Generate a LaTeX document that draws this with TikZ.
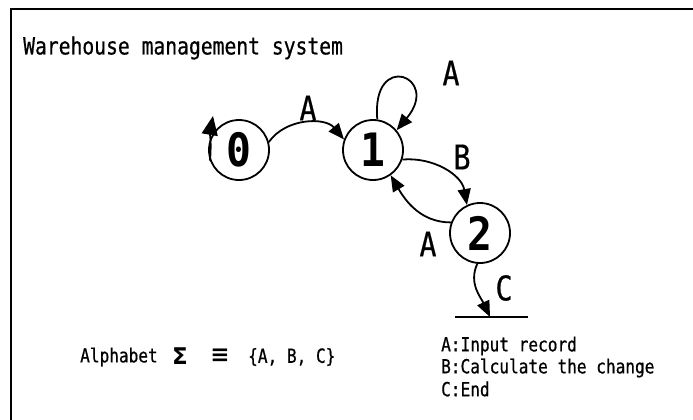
\documentclass[tikz,border=0pt]{standalone}
\usepackage{fontspec}
\usetikzlibrary{arrows.meta}
\newfontfamily\gothic[FakeStretch=0.83,FakeBold=0.6]{DejaVu Sans Mono}
\newfontfamily\digitfont[FakeStretch=0.9]{DejaVu Sans Mono}
\newfontfamily\symfont{DejaVu Sans}
\begin{document}
\begin{tikzpicture}[x=1pt,y=1pt,
  state/.style={circle,draw,line width=1.8pt,minimum size=60pt,inner sep=0pt,font=\digitfont\bfseries\fontsize{46}{46}\selectfont},
  edge/.style={line width=1.8pt,-{Triangle[length=16pt,width=13pt]}},
  lab/.style={font=\gothic\fontsize{34}{34}\selectfont,inner sep=0pt},
  txt/.style={font=\gothic\fontsize{19.4}{22}\selectfont,inner sep=0pt,anchor=west},
  sym/.style={font=\symfont\bfseries\fontsize{23}{23}\selectfont,inner sep=0pt},
  frame/.style={line width=2pt}]
\useasboundingbox (0,0) rectangle (693,-420);
\coordinate (ftl) at (11,-9);
\coordinate (fbl) at (11,-421);
\coordinate (ftr) at (694,-9);
\draw[frame] (fbl) -- (ftl) -- (ftr);
\node[txt,font=\gothic\fontsize{23.7}{26}\selectfont] (title) at (23,-48) {Warehouse management system};
\node[state] (n0) at (239,-150) {0};
\node[state] (n1) at (373,-150) {1};
\node[state] (n2) at (480,-233) {2};
\coordinate (init) at (213,-116);
\coordinate (cend) at (490,-317);
\coordinate (lineL) at (455,-317);
\coordinate (lineR) at (528,-317);
\draw[line width=1.8pt] (lineL) -- (lineR);
\draw[edge,-{Triangle[length=19pt,width=16pt]}] (n0.200) to[out=85,in=-100] (init);
\draw[edge] (n0.15) to[out=55,in=130] (n1.160);
\draw[edge] (n1.82) .. controls +(95:70) and +(50:70) .. (n1.40);
\draw[edge] (n1.-18) to[out=5,in=100] (n2.115);
\draw[edge] (n2.160) to[out=180,in=-60] (n1.-55);
\draw[edge] (n2.-95) to[out=-115,in=115] (cend);
\node[lab] (la01) at (308,-108) {A};
\node[lab] (la11) at (451,-73) {A};
\node[lab] (lb12) at (462,-157) {B};
\node[lab] (la21) at (428,-244) {A};
\node[lab] (lc) at (504,-288) {C};
\node[txt] (alpha) at (80,-357) {Alphabet};
\node[sym] (sigma) at (180,-356) {Σ};
\node[sym] (equiv) at (220,-356) {≡};
\node[txt] (set) at (248,-357) {\{A, B, C\}};
\node[txt] (lega) at (441,-346) {A:Input record};
\node[txt] (legb) at (441,-368) {B:Calculate the change};
\node[txt] (legc) at (441,-389) {C:End};
\end{tikzpicture}
\end{document}
